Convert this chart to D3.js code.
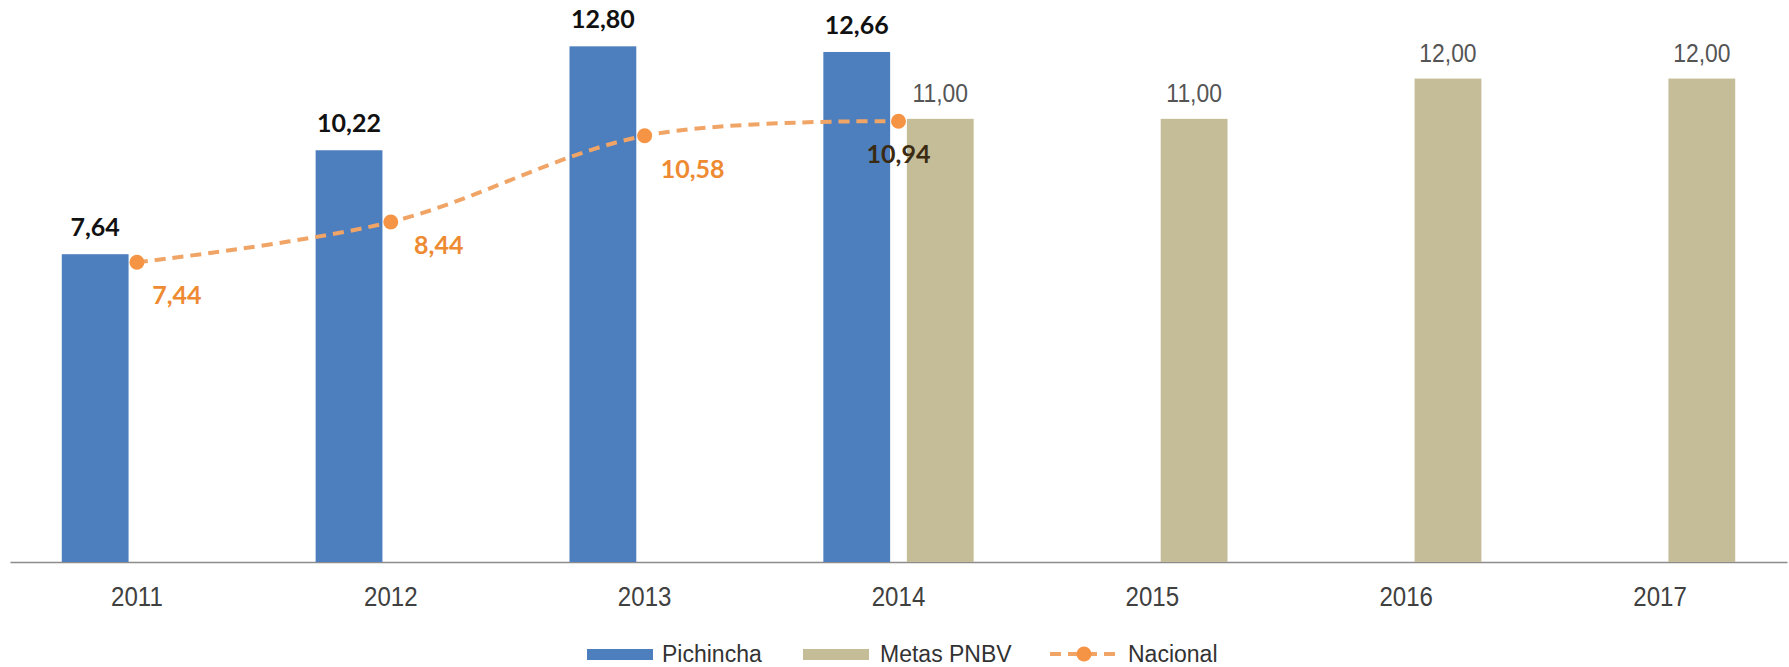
<!DOCTYPE html>
<html>
<head>
<meta charset="utf-8">
<script src="https://cdn.jsdelivr.net/npm/d3@7"></script>
<style>
  html, body { margin: 0; padding: 0; background: #fff; }
  svg { display: block; }
</style>
</head>
<body>
<svg id="chart" width="1789" height="667"></svg>
<script>
const years = ["2011", "2012", "2013", "2014", "2015", "2016", "2017"];
const pichincha = [7.64, 10.22, 12.80, 12.66, null, null, null];
const metas = [null, null, null, 11.00, 11.00, 12.00, 12.00];
const nacional = [7.44, 8.44, 10.58, 10.94, null, null, null];
const seriesNames = ["Pichincha", "Metas PNBV", "Nacional"];

const W = 1789, H = 667;
const svg = d3.select("#chart");
const fmt = v => v.toFixed(2).replace(".", ",");
const narrowFont = "'Liberation Sans', Arial, sans-serif";

const x0 = d3.scaleBand().domain(years).range([10, 1787]).padding(0);
const x1 = d3.scaleBand().domain(["Pichincha", "Metas PNBV"])
  .range([0, x0.bandwidth()]).paddingInner(0.2).paddingOuter(0.62);
const y = d3.scaleLinear().domain([0, 13.95]).range([562, 0]);

const colBlue = "#4d7ebe", colTan = "#c5bd98", colOrange = "#f59445";

// Axis (baseline + labels)
const xAxis = d3.axisBottom(x0).tickSize(0).tickPadding(24);
const gAxis = svg.append("g").attr("transform", `translate(0,${y(0)})`).call(xAxis);
gAxis.select(".domain").attr("stroke", "#8c8c8c").attr("stroke-width", 1.6);
gAxis.selectAll("text")
  .attr("font-family", narrowFont)
  .attr("font-size", 28).attr("fill", "#404040")
  .attr("transform", "scale(0.86,1)");

// Pichincha bars
const pData = years.map((yr, i) => ({yr, v: pichincha[i]})).filter(d => d.v != null);
svg.append("g").selectAll("rect").data(pData).join("rect")
  .attr("x", d => x0(d.yr) + x1("Pichincha"))
  .attr("y", d => y(d.v))
  .attr("width", x1.bandwidth())
  .attr("height", d => y(0) - y(d.v))
  .attr("fill", colBlue);

// Metas bars
const mData = years.map((yr, i) => ({yr, v: metas[i]})).filter(d => d.v != null);
svg.append("g").selectAll("rect").data(mData).join("rect")
  .attr("x", d => x0(d.yr) + x1("Metas PNBV"))
  .attr("y", d => y(d.v))
  .attr("width", x1.bandwidth())
  .attr("height", d => y(0) - y(d.v))
  .attr("fill", colTan);

// Pichincha labels
svg.append("g").selectAll("text").data(pData).join("text")
  .attr("x", d => x0(d.yr) + x1("Pichincha") + x1.bandwidth() / 2)
  .attr("y", d => y(d.v) - 18)
  .attr("text-anchor", "middle")
  .attr("font-family", "Lato, sans-serif").attr("font-weight", "bold")
  .attr("font-size", 25).attr("fill", "#111")
  .text(d => fmt(d.v));

// Metas labels
svg.append("g").selectAll("text").data(mData).join("text")
  .attr("transform", d => `translate(${x0(d.yr) + x1("Metas PNBV") + x1.bandwidth() / 2},${y(d.v) - 17}) scale(0.88,1)`)
  .attr("text-anchor", "middle")
  .attr("font-family", narrowFont)
  .attr("font-size", 26).attr("fill", "#555")
  .text(d => fmt(d.v));

// Nacional line
const nData = years.map((yr, i) => ({yr, v: nacional[i]})).filter(d => d.v != null);
const cx = d => x0(d.yr) + x0.bandwidth() / 2;
const line = d3.line().x(cx).y(d => y(d.v)).curve(d3.curveCatmullRom.alpha(0.5));
svg.append("path").datum(nData)
  .attr("d", line)
  .attr("fill", "none").attr("stroke", "#f0a466")
  .attr("stroke-width", 4).attr("stroke-dasharray", "11,7");
svg.append("g").selectAll("circle").data(nData).join("circle")
  .attr("cx", cx).attr("cy", d => y(d.v)).attr("r", 7.5)
  .attr("fill", colOrange);

// Nacional labels (last one centered below point, others below-right)
svg.append("g").selectAll("text").data(nData).join("text")
  .attr("x", (d, i) => cx(d) + (i === nData.length - 1 ? 0 : (i === 0 ? 40 : 48)))
  .attr("y", (d, i) => y(d.v) + (i === 1 ? 32 : 42))
  .attr("text-anchor", "middle")
  .attr("font-family", "Lato, sans-serif").attr("font-weight", "bold")
  .attr("font-size", 25)
  .attr("fill", (d, i) => i === nData.length - 1 ? "#3b2a12" : "#ee8a32")
  .text(d => fmt(d.v));

// Legend
const lg = svg.append("g").attr("font-family", narrowFont)
  .attr("font-size", 23).attr("fill", "#333");
const ly = 654;
lg.append("rect").attr("x", 587).attr("y", ly - 5).attr("width", 66).attr("height", 11).attr("fill", colBlue);
lg.append("text").attr("x", 662).attr("y", ly + 8).text(seriesNames[0]);
lg.append("rect").attr("x", 803).attr("y", ly - 5).attr("width", 66).attr("height", 11).attr("fill", colTan);
lg.append("text").attr("x", 880).attr("y", ly + 8).text(seriesNames[1]);
lg.append("line").attr("x1", 1050).attr("x2", 1120).attr("y1", ly).attr("y2", ly)
  .attr("stroke", "#f0a466").attr("stroke-width", 4).attr("stroke-dasharray", "11,7");
lg.append("circle").attr("cx", 1084).attr("cy", ly).attr("r", 7.5).attr("fill", colOrange);
lg.append("text").attr("x", 1128).attr("y", ly + 8).text(seriesNames[2]);
</script>
</body>
</html>
